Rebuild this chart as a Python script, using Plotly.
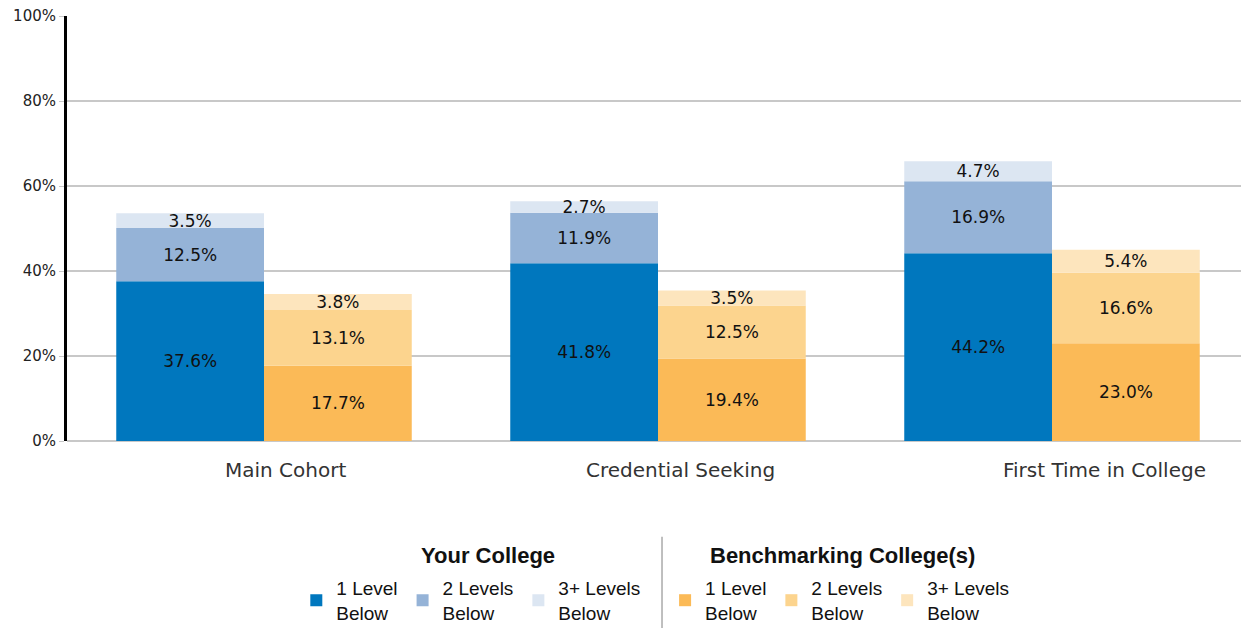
import plotly.graph_objects as go
import numpy as np

categories = ["Main Cohort", "Credential Seeking", "First Time in College"]
level_names = ["1 Level<br>Below", "2 Levels<br>Below", "3+ Levels<br>Below"]
group_titles = ["Your College", "Benchmarking College(s)"]

your_1 = [37.6, 41.8, 44.2]
your_2 = [12.5, 11.9, 16.9]
your_3 = [3.5, 2.7, 4.7]

bench_1 = [17.7, 19.4, 23.0]
bench_2 = [13.1, 12.5, 16.6]
bench_3 = [3.8, 3.5, 5.4]

y_ticks = [0, 20, 40, 60, 80, 100]

your_colors = ["#0077BE", "#95B3D7", "#DCE6F2"]
bench_colors = ["#FBBA57", "#FCD48E", "#FDE5BD"]

FONT = "DejaVu Sans"
LFONT = "Liberation Sans"

fig = go.Figure()

def add_group(series, colors, group, legend):
    base = np.zeros(len(categories))
    for vals, col, name in zip(series, colors, level_names):
        vals = np.array(vals)
        fig.add_trace(go.Bar(
            x=categories, y=vals, base=base.copy(), name=name,
            offsetgroup=group, legend=legend,
            marker=dict(color=col, line=dict(width=0)),
            text=[f"{v:.1f}%" for v in vals],
            textposition="inside", insidetextanchor="middle", textangle=0,
            textfont=dict(family=FONT, size=17, color="#111111"),
            hoverinfo="skip",
        ))
        base = base + vals

add_group([your_1, your_2, your_3], your_colors, "your", "legend")
add_group([bench_1, bench_2, bench_3], bench_colors, "bench", "legend2")

label_shift = [21, 22, 52]
for c, s in zip(categories, label_shift):
    fig.add_annotation(x=c, y=0, xref="x", yref="paper", yshift=-29, xshift=s,
                       text=c, showarrow=False, yanchor="middle",
                       font=dict(family=FONT, size=20, color="#333333"))

for title, xp in zip(group_titles, [0.356, 0.6565]):
    fig.add_annotation(x=xp, y=-0.269, xref="paper", yref="paper",
                       text=f"<b>{title}</b>", showarrow=False,
                       xanchor="center", yanchor="middle",
                       font=dict(family=LFONT, size=22, color="#111111"))

fig.add_shape(type="line", xref="paper", yref="paper",
              x0=0.5034, x1=0.5034, y0=-0.225, y1=-0.440,
              line=dict(color="#aaaaaa", width=1.5))

legend_common = dict(orientation="h", yanchor="top", xanchor="left", y=-0.302,
                     font=dict(family=LFONT, size=19, color="#111111"),
                     bgcolor="rgba(0,0,0,0)", itemwidth=30, tracegroupgap=0)

fig.update_layout(
    width=1241, height=624,
    margin=dict(l=59, r=0, t=8, b=189),
    plot_bgcolor="white", paper_bgcolor="white",
    barmode="group", bargap=0.25, bargroupgap=0,
    uniformtext=dict(minsize=17, mode="show"),
    xaxis=dict(showticklabels=False, showgrid=False, zeroline=False,
               showline=False, ticks=""),
    yaxis=dict(range=[0, 100], tickvals=y_ticks,
               ticktext=[f"{t}%" for t in y_ticks],
               showgrid=True, gridcolor="#C8C8C8", gridwidth=1.5,
               zeroline=True, zerolinecolor="#C8C8C8", zerolinewidth=1.5,
               showline=True, linecolor="black", linewidth=3,
               ticks="outside", ticklen=5, tickcolor="#C8C8C8",
               automargin=False, ticklabeloverflow="allow",
               tickfont=dict(family=FONT, size=15, color="#222222")),
    legend=dict(x=0.194, **legend_common),
    legend2=dict(x=0.506, **legend_common),
)

fig.write_html("out.html")
